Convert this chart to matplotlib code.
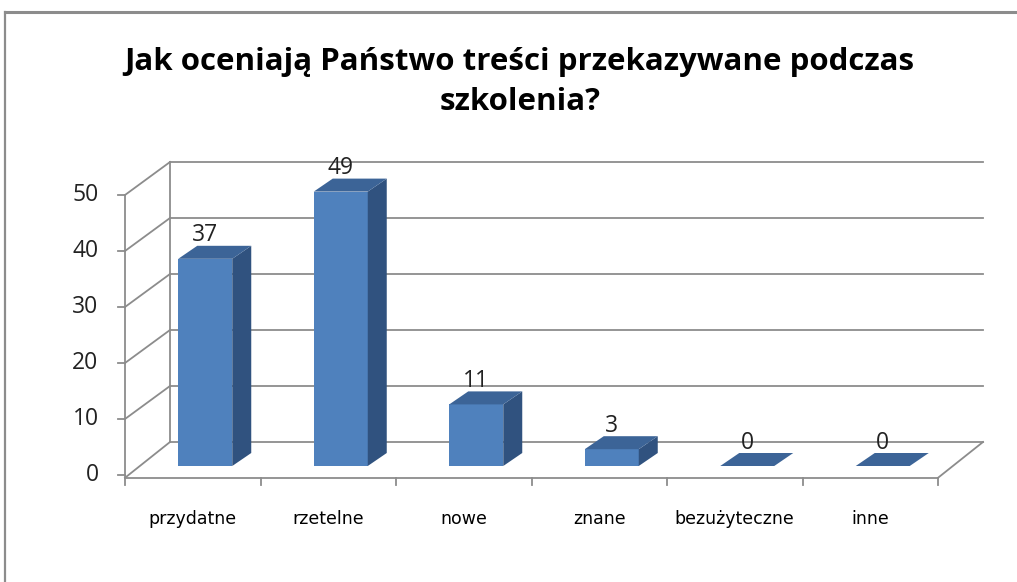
import matplotlib.pyplot as plt
from matplotlib.patches import Polygon
from matplotlib.lines import Line2D

categories = ['przydatne', 'rzetelne', 'nowe', 'znane', 'bezużyteczne', 'inne']
values = [37, 49, 11, 3, 0, 0]
y_ticks = [0, 10, 20, 30, 40, 50]
title = 'Jak oceniają Państwo treści przekazywane podczas\nszkolenia?'

# pseudo-3d geometry (x in category units, y in value units)
SX = 135.5  # px per category
SY = 5.6    # px per value unit
depth_x, depth_y = 45 / SX, 33 / SY        # full floor depth
front_x, front_y = 12.5 / SX, 9 / SY       # bar front plane offset
bar_dx, bar_dy = 19 / SX, 13 / SY          # bar depth
bar_w = 54 / SX
floor_y = -0.5

grid_c = '#8c8c8c'
c_front = '#4f81bd'
c_side = '#30527f'
c_top = '#3c6497'

fig = plt.figure(figsize=(10.17, 5.82), dpi=100)
ax = fig.add_axes([0, 0, 1, 1])
ax.set_xlim(-125 / SX, (1017 - 125) / SX)
ax.set_ylim((475 - 582) / SY, 475 / SY)
ax.axis('off')

# outer frame
fig.add_artist(Line2D([5 / 1017, 5 / 1017], [0, 1 - 12 / 582], color='#8c8c8c', lw=1.6))
fig.add_artist(Line2D([5 / 1017, 1.0], [1 - 12 / 582, 1 - 12 / 582], color='#8c8c8c', lw=2.2))

n = len(categories)
lw = 1.3
# back wall gridlines + side wall diagonals
for v in y_ticks:
    ax.plot([depth_x, n + depth_x], [v + depth_y, v + depth_y], color=grid_c, lw=lw, zorder=1)
    ax.plot([0, depth_x], [v if v > 0 else floor_y, v + depth_y], color=grid_c, lw=lw, zorder=1)
    ax.plot([-0.05, 0], [v, v], color=grid_c, lw=lw, zorder=1)
    ax.text(-0.195, v, str(v), ha='right', va='center', fontsize=16.5,
            family='Open Sans', color='#222222')
ax.plot([depth_x, depth_x], [depth_y, y_ticks[-1] + depth_y], color=grid_c, lw=lw, zorder=1)
ax.plot([0, 0], [floor_y, y_ticks[-1]], color=grid_c, lw=lw, zorder=1)
# floor
ax.plot([0, n], [floor_y, floor_y], color=grid_c, lw=lw, zorder=1)
ax.plot([n, n + depth_x], [floor_y, depth_y], color=grid_c, lw=lw, zorder=1)
for i in range(n + 1):
    ax.plot([i, i], [floor_y, floor_y - 1.3], color=grid_c, lw=lw, zorder=1)

# bars
for i, (cat, v) in enumerate(zip(categories, values)):
    cx = i + 0.5 + front_x
    x0, x1 = cx - bar_w / 2, cx + bar_w / 2
    y0, y1 = front_y, front_y + v
    top = [(x0, y1), (x1, y1), (x1 + bar_dx, y1 + bar_dy), (x0 + bar_dx, y1 + bar_dy)]
    if v > 0:
        ax.add_patch(Polygon([(x0, y0), (x1, y0), (x1, y1), (x0, y1)], closed=True,
                             facecolor=c_front, edgecolor='none', zorder=3))
        ax.add_patch(Polygon([(x1, y0), (x1 + bar_dx, y0 + bar_dy), (x1 + bar_dx, y1 + bar_dy), (x1, y1)],
                             closed=True, facecolor=c_side, edgecolor='none', zorder=3))
    ax.add_patch(Polygon(top, closed=True, facecolor=c_top, edgecolor='none', zorder=3))
    ax.text(cx, y1 + bar_dy - 0.3, str(v), ha='center', va='bottom', fontsize=16.5,
            family='Open Sans', color='#222222', zorder=4)
    ax.text(i + 0.5, floor_y - 7.3, cat, ha='center', va='center', fontsize=12.5,
            family='DejaVu Sans', color='#000000')

fig.text(0.511, 1 - 82 / 582, title, ha='center', va='center', fontsize=22.5,
         fontweight='bold', family='Open Sans', linespacing=1.42)

fig.savefig('out.png', dpi=100)
